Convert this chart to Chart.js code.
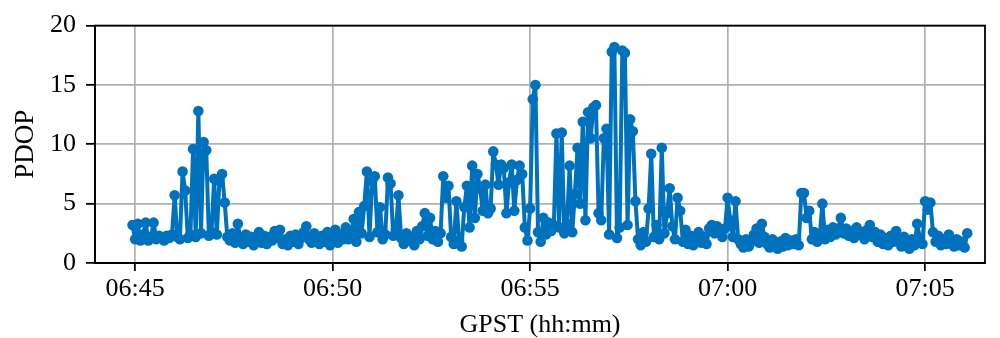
<!DOCTYPE html>
<html>
<head>
<meta charset="utf-8">
<script src="https://cdn.jsdelivr.net/npm/chart.js@4/dist/chart.umd.min.js"></script>
<style>
  html, body { margin: 0; padding: 0; background: #fff; }
  #wrap { width: 1000px; height: 338px; }
</style>
</head>
<body>
<div id="wrap"><canvas id="c" width="1000" height="338"></canvas></div>
<script>
// Time base: seconds after 06:45:00 GPST, one sample every 4 s starting at -4 s
const startSec = -4;
const stepSec = 4;
// PDOP values
const pdop = [
  3.2,
  2.0, 3.3, 1.9, 2.4, 3.4, 1.9, 2.2, 3.4, 2.0, 2.3,
  2.2, 1.9, 2.3, 2.1, 2.4, 5.7, 2.2, 2.0, 7.7, 6.1,
  2.1, 2.4, 9.6, 2.2, 12.8, 2.5, 10.2, 9.5, 2.3, 2.6,
  7.1, 2.4, 6.9, 7.5, 5.1, 2.2, 1.9, 2.5, 1.7, 3.3,
  2.0, 1.6, 2.4, 1.8, 2.2, 1.5, 2.1, 2.6, 1.7, 2.3,
  1.6, 2.2, 1.9, 2.7, 2.1, 2.8, 1.6, 2.0, 1.5, 2.3,
  1.8, 2.4, 1.6, 2.1, 2.6, 3.1, 2.0, 1.7, 2.5, 1.9,
  1.6, 2.3, 1.8, 2.6, 1.5, 2.2, 2.8, 1.7, 2.4, 2.0,
  3.0, 2.0, 2.6, 3.7, 1.8, 4.3, 2.5, 4.8, 7.7, 2.2,
  6.9, 7.3, 2.6, 4.7, 2.0, 2.4, 7.2, 6.7, 2.3, 2.8,
  5.7, 2.1, 1.6, 2.5, 1.9, 2.2, 1.5, 2.7, 2.0, 3.1,
  4.2, 2.3, 3.8, 2.0, 2.7, 1.8, 2.5, 7.3, 5.5, 6.5,
  2.2, 1.6, 5.2, 1.9, 1.4, 4.7, 6.5, 3.0, 8.2, 3.8,
  7.5, 6.3, 4.4, 6.6, 4.2, 4.6, 9.4, 8.3, 6.6, 8.3,
  8.0, 4.2, 6.8, 8.3, 4.4, 7.0, 8.2, 7.5, 3.0, 1.9,
  4.6, 13.8, 15.0, 2.6, 1.8, 3.8, 2.4, 3.4, 2.7, 3.2,
  10.9, 3.0, 11.0, 2.5, 3.3, 8.2, 2.6, 5.8, 9.7, 5.0,
  11.9, 3.6, 12.7, 10.5, 13.1, 13.3, 4.2, 3.6, 10.5, 11.3,
  2.4, 17.8, 18.2, 2.1, 3.0, 17.9, 17.7, 3.2, 12.1, 11.1,
  5.2, 2.0, 1.5, 2.6, 1.8, 4.6, 9.2, 2.2, 3.2, 2.0,
  9.7, 2.5, 4.2, 6.3, 3.1, 2.0, 5.5, 4.4, 1.8, 2.8,
  1.6, 2.3, 1.5, 2.0, 2.6, 1.7, 2.2, 1.6, 2.9, 3.2,
  2.5, 3.1, 2.7, 2.2, 2.9, 5.5, 3.6, 2.2, 5.2, 2.0,
  1.6, 1.3, 2.0, 1.4, 1.8, 2.4, 2.9, 1.7, 3.3, 2.2,
  1.6, 1.3, 2.0, 1.5, 1.2, 1.8, 1.4, 2.1, 1.5, 1.9,
  1.6, 2.0, 1.5, 5.9, 5.9, 3.8, 4.4, 2.0, 2.6, 1.8,
  2.3, 5.0, 2.0, 2.8, 2.2, 3.0, 2.4, 2.9, 3.8, 2.5,
  2.9, 2.3, 2.7, 2.1, 3.0, 2.4, 2.6, 2.0, 2.8, 3.2,
  2.2, 2.6, 1.8, 2.4, 1.6, 2.1, 1.5, 2.3, 1.8, 2.7,
  1.9, 1.4, 2.2, 1.6, 1.2, 2.0, 1.5, 3.3, 2.1, 1.6,
  5.2, 4.5, 5.1, 2.6, 1.8, 2.3, 1.5, 2.0, 1.6, 2.4,
  1.8, 1.4, 2.0, 1.5, 1.8, 1.3, 2.5
];
const xTicks = [0, 300, 600, 900, 1200];
const xTickLabels = ['06:45', '06:50', '06:55', '07:00', '07:05'];
const yTicks = [0, 5, 10, 15, 20];

const points = pdop.map((v, i) => ({ x: startSec + i * stepSec, y: v }));

const FONT = '"Liberation Serif", "Times New Roman", serif';
const BLUE = '#0072bd';

const framePlugin = {
  id: 'frame',
  afterDraw(chart) {
    const a = chart.chartArea, ctx = chart.ctx;
    ctx.save();
    ctx.strokeStyle = '#000';
    ctx.lineWidth = 1.8;
    ctx.strokeRect(a.left, a.top, a.right - a.left, a.bottom - a.top);
    ctx.restore();
  }
};

new Chart(document.getElementById('c'), {
  type: 'line',
  data: {
    datasets: [{
      data: points,
      borderColor: BLUE,
      backgroundColor: BLUE,
      borderWidth: 4,
      borderJoinStyle: 'round',
      borderCapStyle: 'round',
      pointRadius: 5.3,
      pointBorderWidth: 0,
      pointBackgroundColor: BLUE,
      tension: 0,
      fill: false
    }]
  },
  options: {
    responsive: false,
    animation: false,
    devicePixelRatio: 1,
    layout: { padding: { top: 23, right: 15, left: 0, bottom: 0 } },
    plugins: { legend: { display: false }, tooltip: { enabled: false } },
    scales: {
      x: {
        type: 'linear',
        min: -61,
        max: 1291,
        afterFit(s) { s.height = 75; },
        afterBuildTicks(s) { s.ticks = xTicks.map(v => ({ value: v })); },
        ticks: {
          color: '#000',
          font: { family: FONT, size: 26 },
          padding: 3,
          maxRotation: 0,
          callback(v) { const k = xTicks.indexOf(v); return k >= 0 ? xTickLabels[k] : ''; }
        },
        grid: { color: '#b0b0b0', lineWidth: 1.7, tickColor: '#000', tickLength: 8, tickWidth: 1.8 },
        border: { color: '#000', width: 1.8 },
        title: { display: true, text: 'GPST (hh:mm)', color: '#000', font: { family: FONT, size: 26 }, padding: { top: 0, bottom: -3 } }
      },
      y: {
        min: 0,
        max: 20,
        afterFit(s) { s.width = 95; },
        afterBuildTicks(s) { s.ticks = yTicks.map(v => ({ value: v })); },
        ticks: { color: '#000', font: { family: FONT, size: 26 }, padding: 10 },
        grid: { color: '#b0b0b0', lineWidth: 1.7, tickColor: '#000', tickLength: 9, tickWidth: 1.8 },
        border: { color: '#000', width: 1.8 },
        title: { display: true, text: 'PDOP', color: '#000', font: { family: FONT, size: 27 }, padding: { top: 10, bottom: 0 } }
      }
    }
  },
  plugins: [framePlugin]
});
</script>
</body>
</html>
